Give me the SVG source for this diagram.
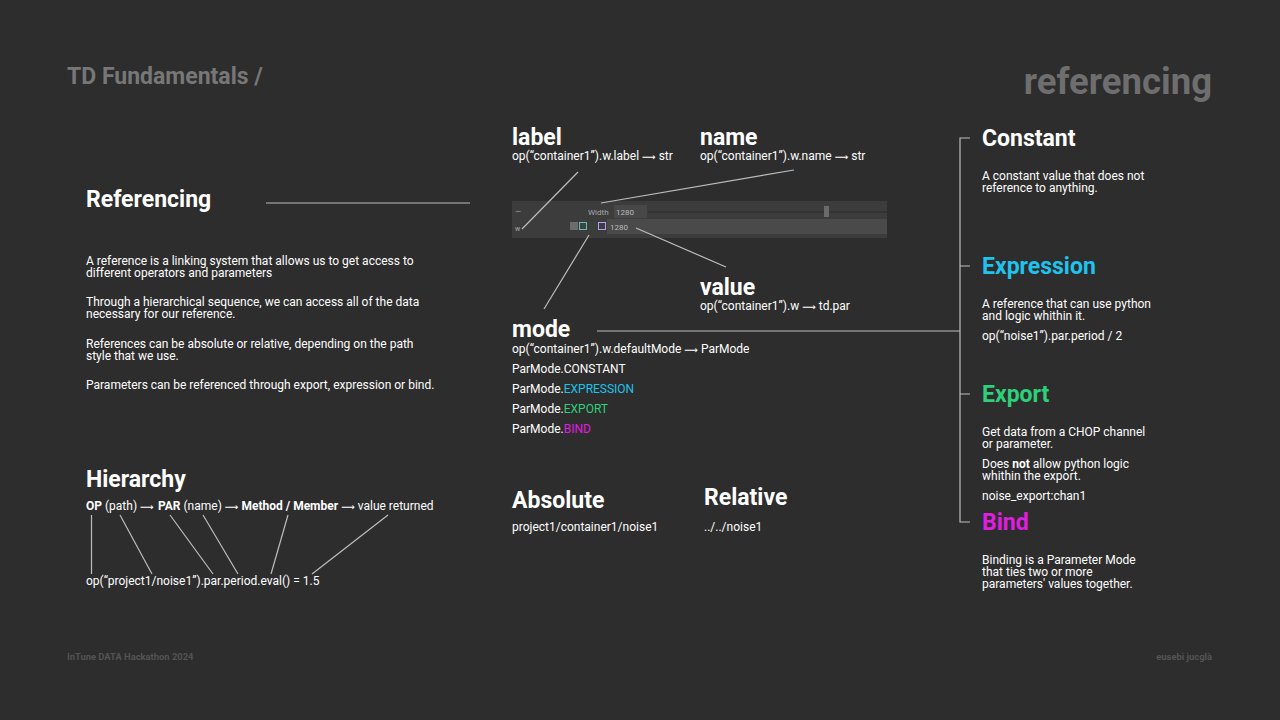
<svg xmlns="http://www.w3.org/2000/svg" width="1280" height="720" viewBox="0 0 1280 720">
<defs>
<style>
text{font-family:Roboto,"Liberation Sans",sans-serif;fill:#ffffff}
.h{font-size:23px;font-weight:700}
.b{font-size:12px}
.bb{font-weight:700}
.ar{font-family:"DejaVu Sans",sans-serif;font-size:9.5px}
.ln{stroke:#bdbdbd;stroke-width:1.2;fill:none}
.cy{fill:#1fc3ec}
.gr{fill:#2ed07a}
.mg{fill:#e01ee0}
.ft{font-size:9.4px;font-weight:700;fill:#545454}
.ui{font-size:8px;fill:#a8a8a8}
</style>
</defs>
<rect x="0" y="0" width="1280" height="720" fill="#2d2d2d"/>

<g id="header">
<text x="67" y="84" style="font-size:23px;font-weight:700;fill:#777777">TD Fundamentals /</text>
<text x="1212" y="94" text-anchor="end" style="font-size:36.5px;font-weight:700;fill:#6e6e6e">referencing</text>
</g>

<g id="footer">
<text class="ft" x="67" y="660">InTune DATA Hackathon 2024</text>
<text class="ft" x="1212" y="660" text-anchor="end">eusebi jucglà</text>
</g>

<g id="widget">
<rect x="512" y="201" width="375" height="37" fill="#3c3c3c"/>
<rect x="607" y="219" width="280" height="15" fill="#4a4a4a"/>
<text class="ui" x="515" y="214">—</text>
<text class="ui" x="588" y="215">Width</text>
<rect x="614" y="205" width="33" height="13" fill="#484848"/>
<text class="ui" x="616" y="215" style="fill:#bbbbbb">1280</text>
<line x1="648" y1="212" x2="887" y2="212" stroke="#2b2b2b" stroke-width="1.2"/>
<rect x="824" y="206" width="5" height="11" fill="#6a6a6a"/>
<text class="ui" x="515" y="231" style="font-size:7px">w</text>
<rect x="570" y="222" width="8" height="8" fill="#6c6c6c"/>
<rect x="579.5" y="222.5" width="7" height="7" fill="#394644" stroke="#6fb8b0" stroke-width="1"/>
<rect x="589" y="222" width="8" height="8" fill="#3a403a"/>
<rect x="598.5" y="222.5" width="7" height="7" fill="#3d3b48" stroke="#b3a2e6" stroke-width="1"/>
<text class="ui" x="610" y="230" style="fill:#bbbbbb">1280</text>
</g>

<g id="connectors">
<line class="ln" x1="266" y1="203" x2="470" y2="203"/>
<line class="ln" x1="91.5" y1="515" x2="91.5" y2="574"/>
<line class="ln" x1="120" y1="515" x2="152" y2="574"/>
<line class="ln" x1="170" y1="515" x2="213" y2="574"/>
<line class="ln" x1="203" y1="515" x2="238" y2="574"/>
<line class="ln" x1="288" y1="515" x2="271" y2="574"/>
<line class="ln" x1="388" y1="515" x2="312" y2="574"/>
<line class="ln" x1="578" y1="172" x2="522" y2="229"/>
<line class="ln" x1="794" y1="170" x2="601" y2="203"/>
<line class="ln" x1="636" y1="228" x2="726" y2="267"/>
<line class="ln" x1="589" y1="235" x2="544" y2="309"/>
<line class="ln" x1="597" y1="331" x2="960" y2="331"/>
<path class="ln" d="M970 138 H960 V522 H970 M960 266 H970 M960 394 H970"/>
</g>

<g id="referencing">
<text class="h" x="86" y="207">Referencing</text>
<text class="b" x="86" y="265">A reference is a linking system that allows us to get access to</text>
<text class="b" x="86" y="277">different operators and parameters</text>
<text class="b" x="86" y="306">Through a hierarchical sequence, we can access all of the data</text>
<text class="b" x="86" y="318">necessary for our reference.</text>
<text class="b" x="86" y="348">References can be absolute or relative, depending on the path</text>
<text class="b" x="86" y="360">style that we use.</text>
<text class="b" x="86" y="389">Parameters can be referenced through export, expression or bind.</text>
</g>

<g id="hierarchy">
<text class="h" x="86" y="487">Hierarchy</text>
<text class="b" x="86" y="510"><tspan class="bb">OP</tspan> (path) <tspan class="ar">⟶</tspan> <tspan class="bb" x="158">PAR</tspan> (name) <tspan class="ar">⟶</tspan> <tspan class="bb">Method / Member</tspan> <tspan class="ar">⟶</tspan> value returned</text>
<text class="b" x="86" y="585">op(“project1/noise1”).par.period.eval() = 1.5</text>
</g>

<g id="label">
<text class="h" x="512" y="145">label</text>
<text class="b" x="512" y="160">op(“container1”).w.label <tspan class="ar">⟶</tspan> str</text>
</g>
<g id="name">
<text class="h" x="700" y="145">name</text>
<text class="b" x="700" y="160">op(“container1”).w.name <tspan class="ar">⟶</tspan> str</text>
</g>
<g id="value">
<text class="h" x="700" y="295">value</text>
<text class="b" x="700" y="310">op(“container1”).w <tspan class="ar">⟶</tspan> td.par</text>
</g>
<g id="mode">
<text class="h" x="512" y="337">mode</text>
<text class="b" x="512" y="353">op(“container1”).w.defaultMode <tspan class="ar">⟶</tspan> ParMode</text>
<text class="b" x="512" y="373">ParMode.CONSTANT</text>
<text class="b" x="512" y="393">ParMode.<tspan class="cy">EXPRESSION</tspan></text>
<text class="b" x="512" y="413">ParMode.<tspan class="gr">EXPORT</tspan></text>
<text class="b" x="512" y="433">ParMode.<tspan class="mg">BIND</tspan></text>
</g>

<g id="absolute">
<text class="h" x="512" y="508">Absolute</text>
<text class="b" x="512" y="531">project1/container1/noise1</text>
</g>
<g id="relative">
<text class="h" x="704" y="505">Relative</text>
<text class="b" x="704" y="531">../../noise1</text>
</g>

<g id="constant">
<text class="h" x="982" y="146">Constant</text>
<text class="b" x="982" y="180">A constant value that does not</text>
<text class="b" x="982" y="192">reference to anything.</text>
</g>
<g id="expression">
<text class="h cy" x="982" y="274">Expression</text>
<text class="b" x="982" y="308">A reference that can use python</text>
<text class="b" x="982" y="320">and logic whithin it.</text>
<text class="b" x="982" y="340">op(“noise1”).par.period / 2</text>
</g>
<g id="export">
<text class="h gr" x="982" y="402">Export</text>
<text class="b" x="982" y="436">Get data from a CHOP channel</text>
<text class="b" x="982" y="448">or parameter.</text>
<text class="b" x="982" y="468">Does <tspan class="bb">not</tspan> allow python logic</text>
<text class="b" x="982" y="480">whithin the export.</text>
<text class="b" x="982" y="500">noise_export:chan1</text>
</g>
<g id="bind">
<text class="h mg" x="982" y="530">Bind</text>
<text class="b" x="982" y="564">Binding is a Parameter Mode</text>
<text class="b" x="982" y="576">that ties two or more</text>
<text class="b" x="982" y="588">parameters' values together.</text>
</g>
</svg>
